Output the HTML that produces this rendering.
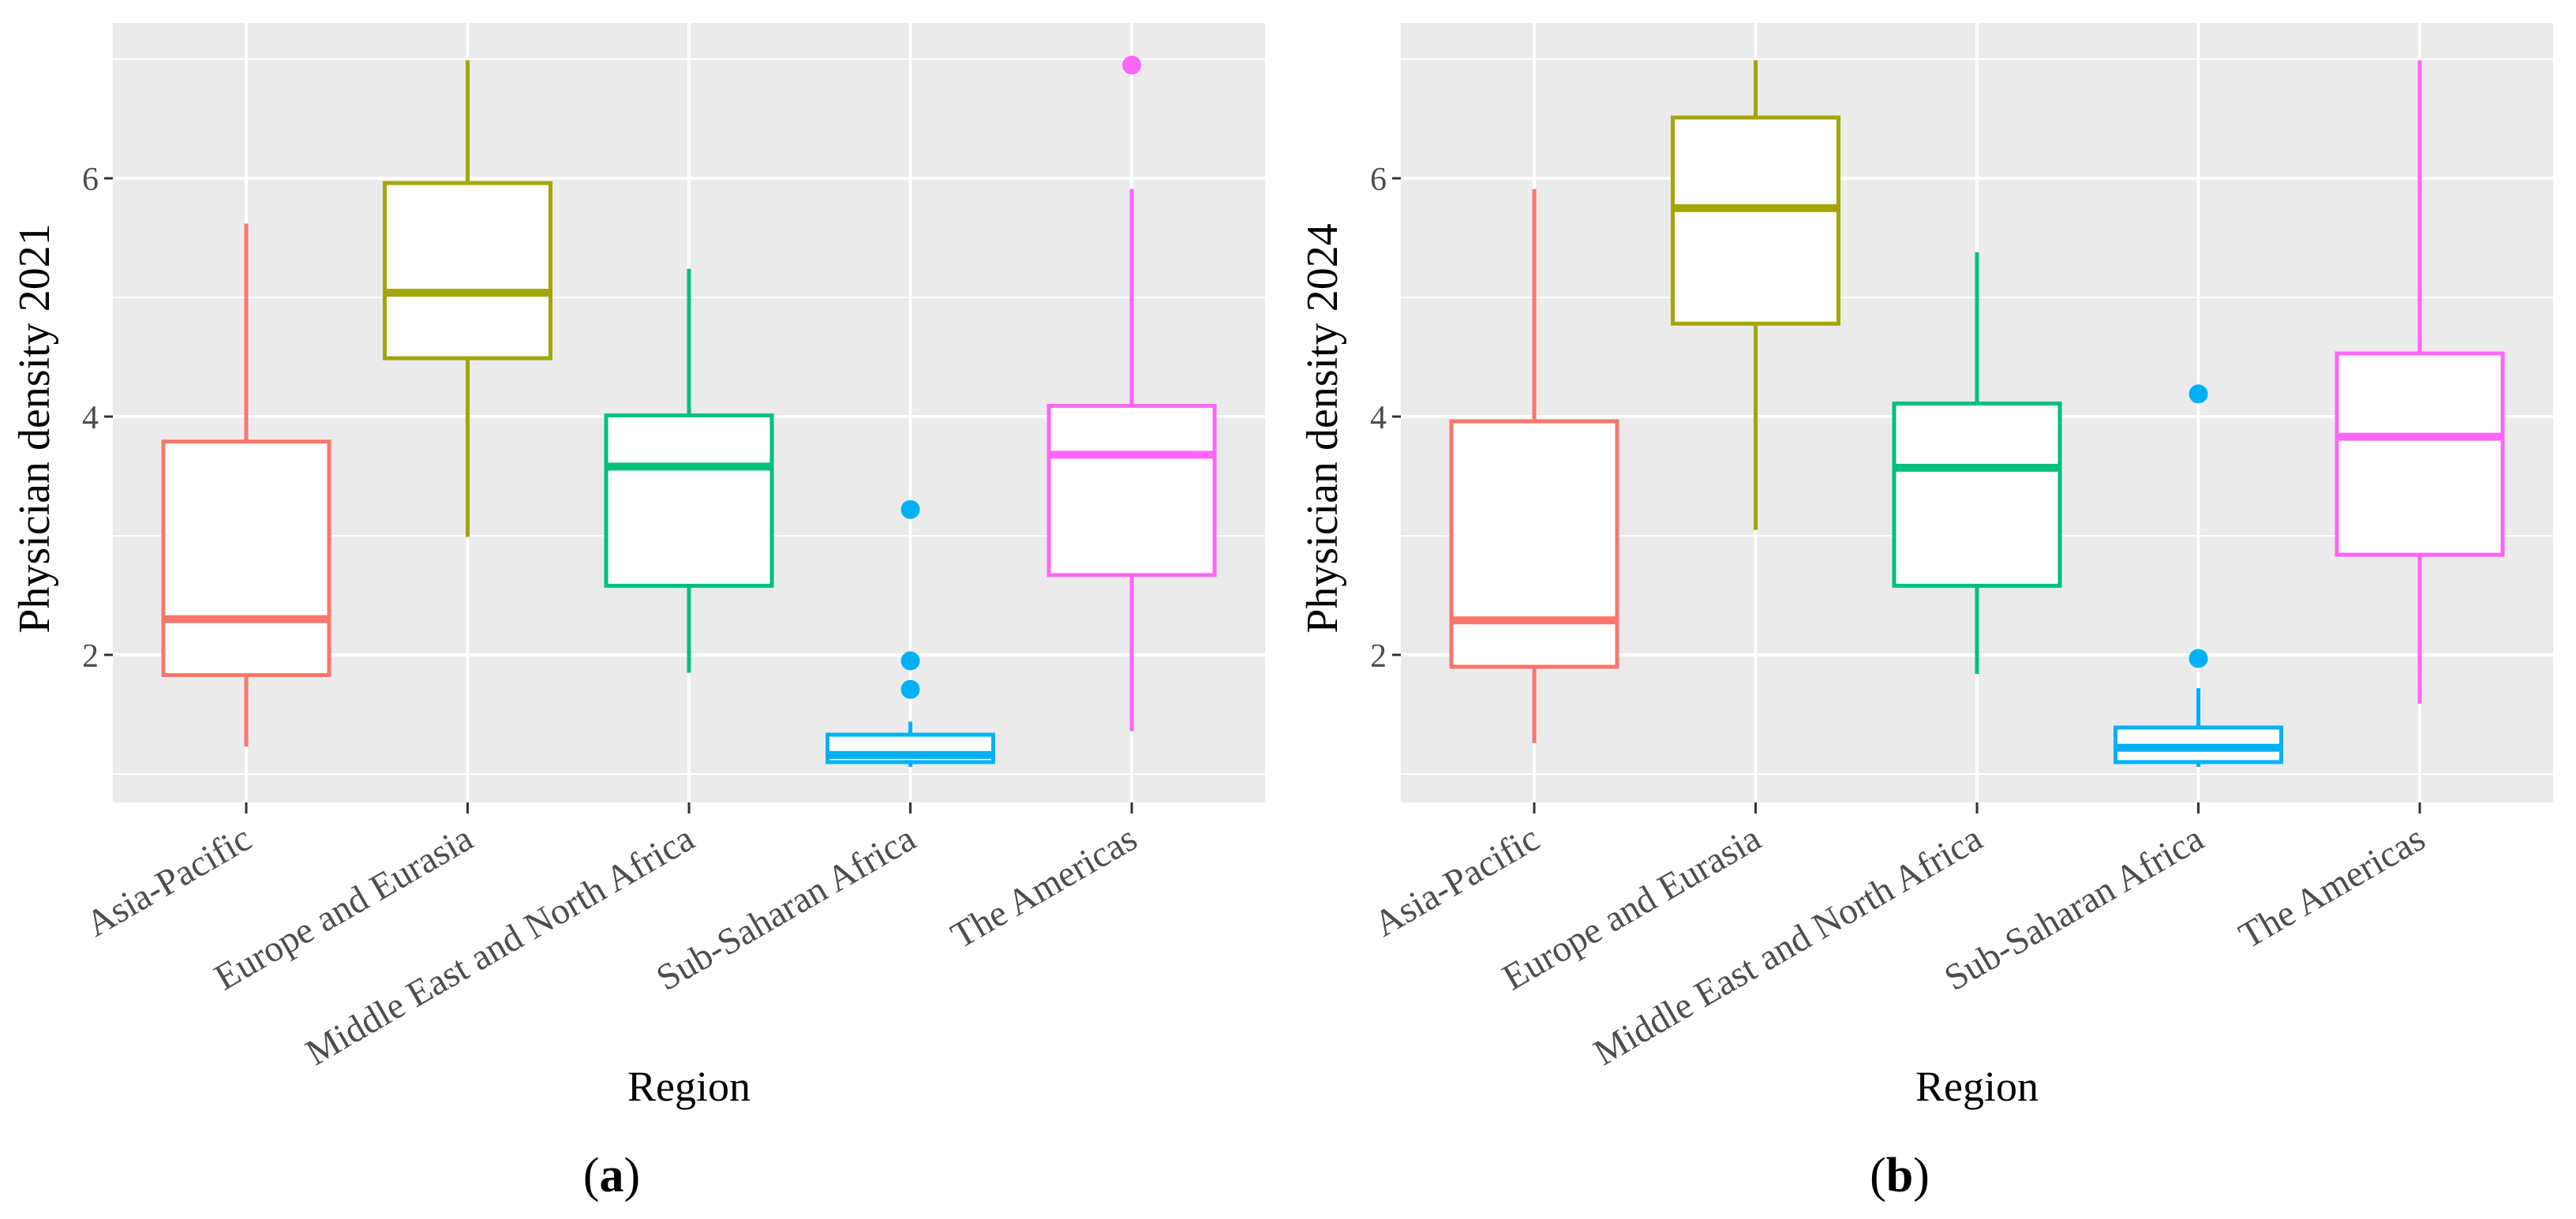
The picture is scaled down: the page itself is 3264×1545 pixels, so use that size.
<!DOCTYPE html>
<html><head><meta charset="utf-8">
<style>
html,body{margin:0;padding:0;background:#fff;}
svg{display:block;}
text{font-family:"Liberation Serif",serif;}
</style></head>
<body>
<svg id="chart" width="3264" height="1545" viewBox="0 0 3264 1545" xmlns="http://www.w3.org/2000/svg"></svg>
<script>
const categories = ["Asia-Pacific","Europe and Eurasia","Middle East and North Africa","Sub-Saharan Africa","The Americas"];
const colors = ["#F8766D","#A3A500","#00BF7D","#00B0F6","#FF66F5"];
const yTicks = [2,4,6];
// panel a (2021): [lowerWhisker, Q1, median, Q3, upperWhisker]
const lowA = [1.23,2.99,1.85,1.06,1.36];
const q1A = [1.83,4.49,2.58,1.10,2.67];
const medA = [2.30,5.04,3.58,1.16,3.68];
const q3A = [3.79,5.96,4.01,1.33,4.09];
const highA = [5.62,6.99,5.24,1.44,5.91];
const outA = [[],[],[],[3.22,1.95,1.71],[6.95]];
// panel b (2024)
const lowB = [1.26,3.05,1.84,1.06,1.59];
const q1B = [1.90,4.78,2.58,1.10,2.84];
const medB = [2.29,5.75,3.57,1.22,3.83];
const q3B = [3.96,6.51,4.11,1.39,4.53];
const highB = [5.91,6.99,5.38,1.72,6.99];
const outB = [[],[],[],[4.19,1.97],[]];

const svg = document.getElementById('chart');
const NS = 'http://www.w3.org/2000/svg';
function mk(tag, attrs, parent){
  const e = document.createElementNS(NS, tag);
  for (const k in attrs) e.setAttribute(k, attrs[k]);
  (parent||svg).appendChild(e);
  return e;
}
function panel(ox, title, letter, low, q1, med, q3, high, outs, key){
  const g = mk('g', {});
  
  
  const L = 143 + ox, R = 1603 + ox, T = 29, B = 1017;
  const y = v => 830 - (v - 2) * 151;
  const x = i => 312 + ox + i * 280.5;
  const bg = mk('rect', {x:L, y:T, width:R-L, height:B-T, fill:'#EBEBEB'}, g);
  
  
  [1,3,5,7].forEach(v => {
    const l = mk('line', {x1:L, x2:R, y1:y(v), y2:y(v), stroke:'#fff', 'stroke-width':2}, g);
    
    
  });
  yTicks.forEach(v => {
    const l = mk('line', {x1:L, x2:R, y1:y(v), y2:y(v), stroke:'#fff', 'stroke-width':4}, g);
    
    
    const tk = mk('line', {x1:L-11, x2:L, y1:y(v), y2:y(v), stroke:'#333', 'stroke-width':3}, g);
    
    
    const t = mk('text', {x:L-18, y:y(v)+15, 'text-anchor':'end', 'font-size':42, fill:'#4d4d4d'}, g);
    t.textContent = v;
    
    
  });
  categories.forEach((c, i) => {
    const l = mk('line', {x1:x(i), x2:x(i), y1:T, y2:B, stroke:'#fff', 'stroke-width':4}, g);
    
    
    const tk = mk('line', {x1:x(i), x2:x(i), y1:B, y2:B+14, stroke:'#333', 'stroke-width':3}, g);
    
    
    const t = mk('text', {x:0, y:0, 'text-anchor':'end', 'font-size':47, fill:'#4d4d4d',
      transform:`translate(${x(i)+10},${B+55}) rotate(-30)`}, g);
    t.textContent = c;
    
    
  });
  categories.forEach((c, i) => {
    const bx = mk('g', {}, g);
    
    
    const col = colors[i], hw = 105;
    mk('line', {x1:x(i), x2:x(i), y1:y(high[i]), y2:y(q3[i]), stroke:col, 'stroke-width':5}, bx);
    mk('line', {x1:x(i), x2:x(i), y1:y(q1[i]), y2:y(low[i]), stroke:col, 'stroke-width':5}, bx);
    mk('rect', {x:x(i)-hw, y:y(q3[i]), width:2*hw, height:y(q1[i])-y(q3[i]), fill:'#fff', stroke:col, 'stroke-width':5}, bx);
    mk('line', {x1:x(i)-hw, x2:x(i)+hw, y1:y(med[i]), y2:y(med[i]), stroke:col, 'stroke-width':10}, bx);
    outs[i].forEach(v => {
      const p = mk('circle', {cx:x(i), cy:y(v), r:12, fill:col}, bx);
      
      
    });
  });
  const yt = mk('text', {x:0, y:0, 'text-anchor':'middle', 'font-size':56, fill:'#000',
    transform:`translate(${ox+62},${(T+B)/2 + 20}) rotate(-90)`}, g);
  yt.textContent = title;
  
  
  const xt = mk('text', {x:(L+R)/2, y:1395, 'text-anchor':'middle', 'font-size':54, fill:'#000'}, g);
  xt.textContent = 'Region';
  
  
  const cap = mk('text', {x:ox+775, y:1510, 'text-anchor':'middle', 'font-size':62, fill:'#000'}, g);
  cap.innerHTML = '(<tspan font-weight="bold">' + letter + '</tspan>)';
  
  
}
panel(0, 'Physician density 2021', 'a', lowA, q1A, medA, q3A, highA, outA, 'a');
panel(1632, 'Physician density 2024', 'b', lowB, q1B, medB, q3B, highB, outB, 'b');
</script>
</body></html>
